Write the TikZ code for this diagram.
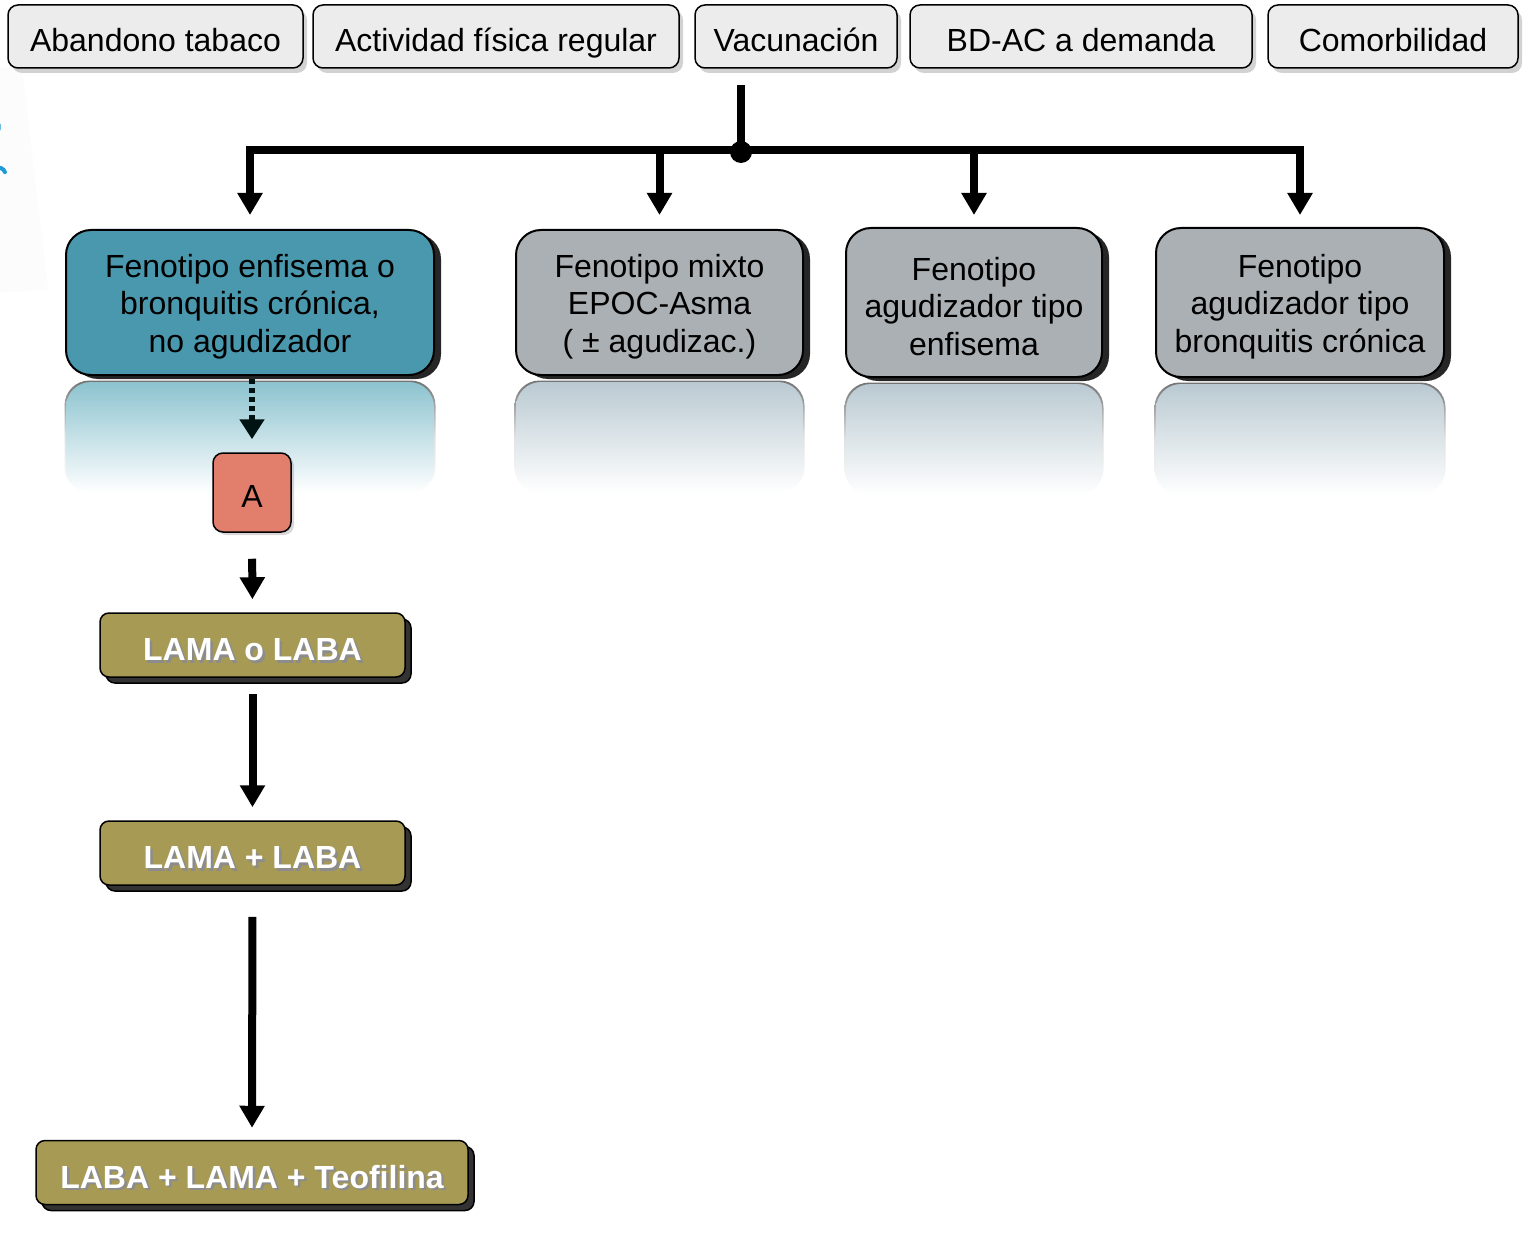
\documentclass[tikz,border=0pt]{standalone}
\usepackage{fontspec}
\setmainfont{Liberation Sans}
\usetikzlibrary{arrows.meta,shadows}
\definecolor{topfill}{HTML}{ECECEC}
\definecolor{tealfill}{HTML}{4A98AE}
\definecolor{grayfill}{HTML}{AAB0B3}
\definecolor{salmonfill}{HTML}{E27F6C}
\definecolor{olivefill}{HTML}{A69A55}
\definecolor{tealrefl}{HTML}{8CC3CF}
\definecolor{grayrefl}{HTML}{BACAD2}
\definecolor{bluemark}{HTML}{1E9AD6}
\newcommand\wshadow[1]{\leavevmode\rlap{\kern2.5pt\raisebox{-2.5pt}{\textcolor{black!45}{#1}}}#1}
\tikzset{
  topbox/.style={draw=black, line width=1.5pt, fill=topfill, rounded corners=10pt,
    drop shadow={shadow xshift=4pt, shadow yshift=-5pt, opacity=0.35},
    font=\fontsize{32}{36}\selectfont, inner sep=0pt, minimum height=63pt,
    text height=31pt, text depth=0pt},
  phbox/.style={draw=black, line width=2pt, rounded corners=25pt,
    drop shadow={shadow xshift=7pt, shadow yshift=-4pt, opacity=0.85, fill=black},
    inner sep=0pt},
  phtext/.style={align=center, font=\fontsize{32}{37.5}\selectfont, inner sep=0pt, yshift=-4pt},
  trbox/.style={draw=black, line width=1.5pt, fill=olivefill, rounded corners=9pt,
    copy shadow={shadow xshift=6pt, shadow yshift=-6pt, fill=black!80},
    text=white, font=\bfseries\fontsize{32}{36}\selectfont, inner sep=0pt, minimum height=64pt,
    text height=31pt, text depth=0pt},
  bigarrow/.style={line width=8pt, -{Triangle[width=24pt,length=22pt]}},
  bus/.style={line width=8pt},
  refl/.style={rounded corners=25pt},
}
\newcommand\reflbox[5]{% x1,y1,x2,y2,color
  \shade[refl, top color=black!55, bottom color=white, middle color=black!12] (#1-1.5,#2-1.5) rectangle (#3+1.5,#4);
  \shade[refl, top color=#5, bottom color=white] (#1,#2) rectangle (#3,#4+1);
}
\begin{document}
\begin{tikzpicture}[x=1pt,y=-1pt]
\useasboundingbox[fill=white] (0,0) rectangle (1530,1257);

% left-edge remnant
\fill[black!1] (0,68) -- (22,68) -- (48,290) -- (0,292) -- cycle;
\draw[bluemark, line width=4pt, line cap=round] (-4,122) arc (-60:20:6);
\draw[bluemark, line width=4pt, line cap=round] (-4,168) arc (-110:-20:7);

% top boxes
\node[topbox, minimum width=295pt] (t1) at (155.5,36.5) {Abandono tabaco};
\node[topbox, minimum width=366pt] (t2) at (496,36.5) {Actividad física regular};
\node[topbox, minimum width=202pt] (t3) at (796,36.5) {Vacunación};
\node[topbox, minimum width=342pt] (t4) at (1081,36.5) {BD-AC a demanda};
\node[topbox, minimum width=250pt] (t5) at (1393,36.5) {Comorbilidad};

% reflections
\reflbox{66}{382}{434}{492}{tealrefl}
\reflbox{516}{382}{803}{492}{grayrefl}
\reflbox{846}{384}{1102}{494}{grayrefl}
\reflbox{1156}{384}{1444}{494}{grayrefl}

% phenotype boxes
\node[phbox, fill=tealfill, minimum width=368pt, minimum height=145pt,
  label={[phtext]center:{Fenotipo enfisema o\\bronquitis crónica,\\no agudizador}}] (p1) at (250,302.5) {};
\node[phbox, fill=grayfill, minimum width=287pt, minimum height=145pt,
  label={[phtext]center:{Fenotipo mixto\\EPOC-Asma\\( ± agudizac.)}}] (p2) at (659.5,302.5) {};
\node[phbox, fill=grayfill, minimum width=256pt, minimum height=149pt,
  label={[phtext]center:{Fenotipo\\agudizador tipo\\enfisema}}] (p3) at (974,302.5) {};
\node[phbox, fill=grayfill, minimum width=288pt, minimum height=149pt,
  label={[phtext]center:{Fenotipo\\agudizador tipo\\bronquitis crónica}}] (p4) at (1300,302.5) {};

% bus
\coordinate (stem) at (741,85);
\coordinate (hub) at (741,152);
\coordinate (busL) at (251,150);
\coordinate (busR) at (1302,150);
\draw[bus] (stem) -- (hub);
\draw[bus] (busL) -- (busR);
\fill (hub) circle (11pt);
\draw[bigarrow, shorten >=14pt] (hub) ++(0,-2) -| (p1.north);
\draw[bigarrow, shorten >=14pt] (hub) ++(0,-2) -| (p2.north);
\draw[bigarrow, shorten >=12pt] (hub) ++(0,-2) -| (p3.north);
\draw[bigarrow, shorten >=12pt] (hub) ++(0,-2) -| (p4.north);

% treatment column
\node[draw=black, line width=1.5pt, fill=salmonfill, rounded corners=10pt,
  minimum width=78pt, minimum height=79pt, inner sep=0pt,
  drop shadow={shadow xshift=3pt, shadow yshift=-3pt, opacity=0.3},
  font=\fontsize{32}{36}\selectfont, text height=30pt, text depth=0pt] (A) at (252,492.5) {A};
\node[trbox, minimum width=305pt] (r1) at (252.5,645) {\wshadow{LAMA o LABA}};
\node[trbox, minimum width=305pt] (r2) at (252.5,853) {\wshadow{LAMA + LABA}};
\node[trbox, minimum width=432pt] (r3) at (252,1172.5) {\wshadow{LABA + LAMA + Teofilina}};

\draw[line width=6pt, dash pattern=on 5pt off 4pt, draw=black!85!teal,
  -{Triangle[width=24pt,length=20pt]}, shorten <=3pt, shorten >=13pt]
  (A.north |- p1.south) -- (A.north);
\draw[bigarrow, shorten <=26pt, shorten >=13pt] (A.south) -- (r1.north);
\draw[bigarrow, shorten <=16pt, shorten >=13pt] (r1.south) -- (r2.north);
\draw[bigarrow, shorten <=31pt, shorten >=12pt] (r2.south) -- (r3.north);
\end{tikzpicture}
\end{document}
